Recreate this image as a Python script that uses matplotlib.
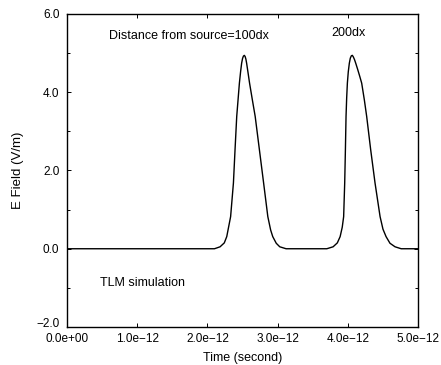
import matplotlib
matplotlib.use("Agg")
import matplotlib.pyplot as plt
import matplotlib.transforms as mtransforms
from matplotlib.ticker import MultipleLocator

plt.rcParams['font.family'] = ['Liberation Sans', 'DejaVu Sans']

# time in units of 1e-12 s, field in V/m
t_100dx = [0.0, 2.10, 2.18, 2.24, 2.275, 2.33, 2.37, 2.393, 2.417, 2.438, 2.455, 2.472, 2.487,
           2.500, 2.512, 2.525, 2.537, 2.548, 2.558, 2.578, 2.60, 2.64, 2.68, 2.74, 2.80, 2.86,
           2.90, 2.93, 2.98, 3.03, 3.12]
e_100dx = [0.0, 0.0, 0.05, 0.15, 0.31, 0.82, 1.68, 2.53, 3.38, 3.85, 4.23, 4.52, 4.74,
           4.86, 4.92, 4.94, 4.91, 4.84, 4.74, 4.50, 4.23, 3.80, 3.38, 2.53, 1.68, 0.82,
           0.48, 0.31, 0.14, 0.05, 0.0]

t_200dx = [3.70, 3.79, 3.85, 3.89, 3.92, 3.94, 3.955, 3.965, 3.974, 3.983, 3.993, 4.006, 4.021,
           4.035, 4.050, 4.064, 4.078, 4.095, 4.112, 4.140, 4.170, 4.197, 4.235, 4.268, 4.325,
           4.387, 4.459, 4.50, 4.544, 4.60, 4.672, 4.76, 5.0]
e_200dx = [0.0, 0.05, 0.15, 0.31, 0.55, 0.82, 1.68, 2.53, 3.38, 3.85, 4.23, 4.52, 4.74,
           4.87, 4.93, 4.94, 4.90, 4.83, 4.74, 4.58, 4.40, 4.23, 3.80, 3.38, 2.53,
           1.68, 0.82, 0.50, 0.31, 0.14, 0.05, 0.0, 0.0]

x_ticks = [0, 1, 2, 3, 4, 5]
x_labels = ["0.0e+00", "1.0e\u221212", "2.0e\u221212", "3.0e\u221212", "4.0e\u221212", "5.0e\u221212"]
y_ticks = [-2, 0, 2, 4, 6]
y_labels = ["\u22122.0", "0.0", "2.0", "4.0", "6.0"]

fig = plt.figure(figsize=(4.41, 3.65), dpi=100)
ax = fig.add_axes([0.152, 0.104, 0.796, 0.858])

ax.plot(t_100dx + t_200dx, e_100dx + e_200dx, color="black", lw=1.0)

ax.set_xlim(0, 5)
ax.set_ylim(-2, 6)
ax.set_xticks(x_ticks)
ax.set_xticklabels(x_labels)
ax.set_yticks(y_ticks)
ax.set_yticklabels(y_labels)
ax.yaxis.set_minor_locator(MultipleLocator(1))
ax.tick_params(which="both", direction="in", top=True, right=True, labelsize=8.5)
ax.tick_params(axis="x", pad=4)
ax.tick_params(axis="y", pad=5.5)
ax.tick_params(which="major", length=3, width=0.7)
ax.tick_params(which="minor", length=2, width=0.7)
for s in ax.spines.values():
    s.set_linewidth(1.0)

# lift the bottom y label a little so it clears the first x label
lift = mtransforms.ScaledTranslation(0, 3 / 72, fig.dpi_scale_trans)
bottom_lbl = ax.get_yticklabels()[0]
bottom_lbl.set_transform(bottom_lbl.get_transform() + lift)

ax.set_xlabel("Time (second)", fontsize=9, labelpad=5)
ax.set_ylabel("E Field (V/m)", fontsize=9.5, labelpad=9)

ax.text(0.60, 5.44, "Distance from source=100dx", fontsize=9, va="center")
ax.text(3.77, 5.52, "200dx", fontsize=9, va="center")
ax.text(0.47, -0.87, "TLM simulation", fontsize=9, va="center")

fig.savefig("out.png", dpi=100)
